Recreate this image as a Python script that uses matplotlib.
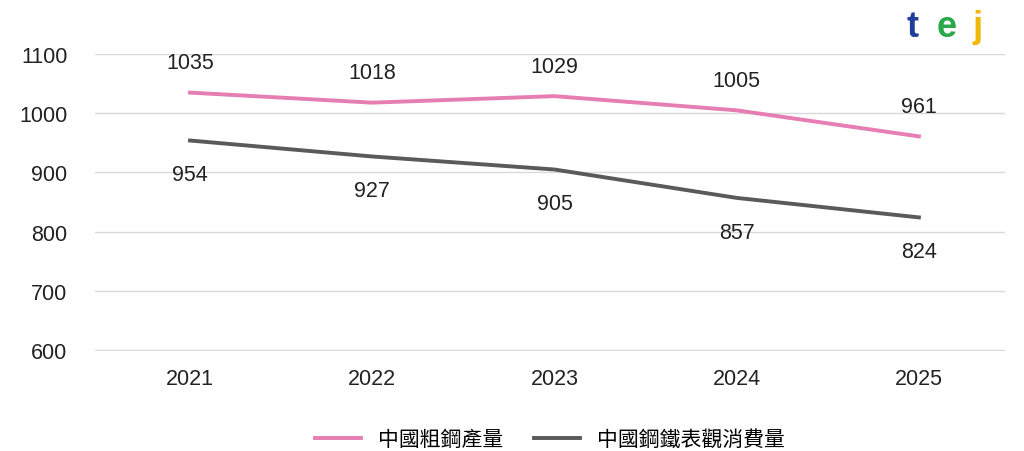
import matplotlib
matplotlib.use("Agg")
import matplotlib.pyplot as plt

plt.rcParams['font.family'] = ['Liberation Sans', 'Noto Sans CJK TC', 'DejaVu Sans']

years = ["2021", "2022", "2023", "2024", "2025"]
production = [1035, 1018, 1029, 1005, 961]
consumption = [954, 927, 905, 857, 824]
yticks = [600, 700, 800, 900, 1000, 1100]

fig = plt.figure(figsize=(10.24, 4.52), dpi=100)
ax = fig.add_axes([0.093, 0.221, 0.888, 0.657])
x = range(len(years))
pink, gray = "#e67db3", "#5a5a5a"
ax.plot(x, production, color=pink, lw=2.8, label="中國粗鋼產量")
ax.plot(x, consumption, color=gray, lw=2.8, label="中國鋼鐵表觀消費量")
for i, v in enumerate(production):
    ax.annotate(str(v), (i, v), xytext=(0, 14), textcoords="offset points",
                ha="center", va="bottom", fontsize=15.5, color="#222222")
for i, v in enumerate(consumption):
    ax.annotate(str(v), (i, v), xytext=(0, -17), textcoords="offset points",
                ha="center", va="top", fontsize=15.5, color="#222222")
ax.set_xlim(-0.52, 4.47)
ax.set_ylim(598, 1100)
ax.set_yticks(yticks)
ax.set_xticks(list(x))
ax.set_xticklabels(years)
ax.yaxis.grid(True, color="#d9d9d9", lw=1)
ax.set_axisbelow(True)
for s in ax.spines.values():
    s.set_visible(False)
ax.tick_params(length=0, labelsize=15.5, colors="#222222", pad=12)
ax.tick_params(axis='y', pad=20)
ax.legend(loc="upper center", bbox_to_anchor=(0.5, -0.2), ncol=2, frameon=False,
          fontsize=15, handlelength=2.2, columnspacing=1.5)
# logo approximation
fig.text(0.885, 0.94, "t", color="#1f3d99", fontsize=26, fontweight="bold", ha="left", va="center")
fig.text(0.915, 0.94, "e", color="#2aa84a", fontsize=26, fontweight="bold", ha="left", va="center")
fig.text(0.95, 0.94, "j", color="#f2b705", fontsize=26, fontweight="bold", ha="left", va="center")
fig.savefig("out.png", dpi=100)
